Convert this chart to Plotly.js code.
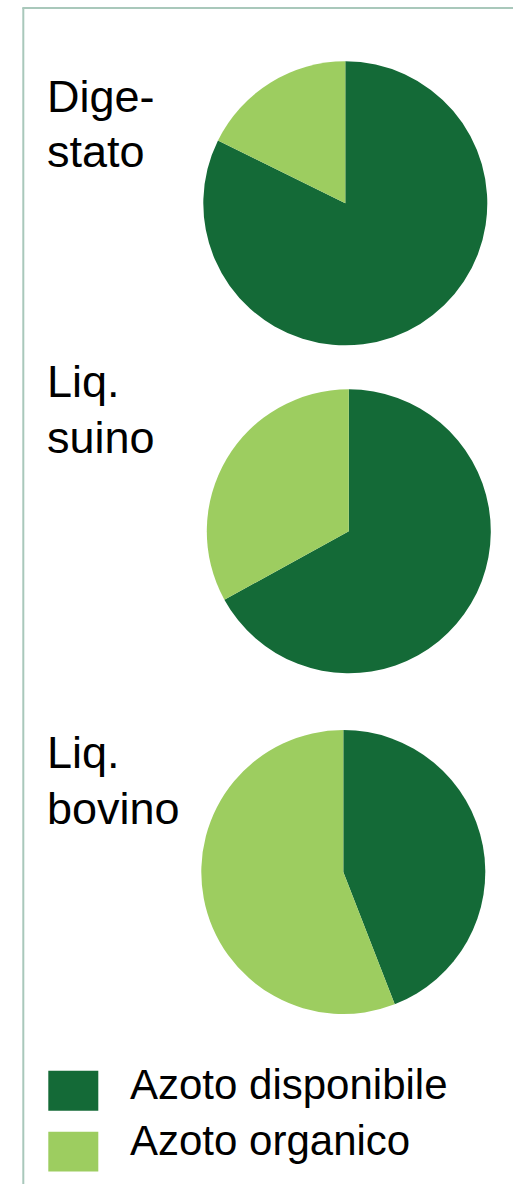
<!DOCTYPE html>
<html>
<head>
<meta charset="utf-8">
<script src="https://cdn.plot.ly/plotly-3.0.1.min.js"></script>
<style>
  html, body { margin: 0; padding: 0; background: #ffffff; }
  #chart { width: 513px; height: 1184px; }
</style>
</head>
<body>
<div id="chart"></div>
<script>
// ---- Data ----
const categories = ["Digestato", "Liq. suino", "Liq. bovino"];
const categoryLabelLines = [["Dige-", "stato"], ["Liq.", "suino"], ["Liq.", "bovino"]];
const seriesNames = ["Azoto disponibile", "Azoto organico"];
const azotoDisponibile = [82.3, 67.0, 44.1];
const azotoOrganico = [17.7, 33.0, 55.9];

// ---- Styles / layout ----
const W = 513, H = 1184;
const colors = ["#146a37", "#9dcd60"];
const fontFamily = "Liberation Sans, Arial, Helvetica, sans-serif";
const pieCenters = [[345.3, 203.3], [348.8, 531.3], [343.3, 872.0]];
const pieR = 142;
const labelX = 46;
const labelBaselines = [[111.7, 166.7], [397.3, 453.0], [768.3, 824.0]];
const labelFont = 45;
const legendFont = 42;
const legendTextX = 129;
const legendBaselines = [1099.5, 1155.0];
const legendBoxes = [[48.3, 1070.7, 98.3, 1110.7], [48.3, 1131.7, 98.3, 1171.5]];

const px = x => x / W;
const py = y => 1 - y / H;

const traces = categories.map((cat, i) => {
  const [cx, cy] = pieCenters[i];
  return {
    type: "pie",
    name: cat,
    labels: seriesNames,
    values: [azotoDisponibile[i], azotoOrganico[i]],
    marker: { colors: colors, line: { width: 0 } },
    sort: false,
    direction: "clockwise",
    rotation: 0,
    textinfo: "none",
    hoverinfo: "label+percent",
    showlegend: false,
    domain: { x: [px(cx - pieR), px(cx + pieR)], y: [py(cy + pieR), py(cy - pieR)] }
  };
});

const annotations = [];
categoryLabelLines.forEach((lines, i) => {
  lines.forEach((t, j) => {
    annotations.push({
      xref: "paper", yref: "paper",
      x: px(labelX), y: py(labelBaselines[i][j] - 0.3465 * labelFont),
      xanchor: "left", yanchor: "middle",
      text: t, showarrow: false, borderpad: 0,
      font: { family: fontFamily, size: labelFont, color: "#000000" }
    });
  });
});
seriesNames.forEach((t, k) => {
  annotations.push({
    xref: "paper", yref: "paper",
    x: px(legendTextX), y: py(legendBaselines[k] - 0.3465 * legendFont),
    xanchor: "left", yanchor: "middle",
    text: t, showarrow: false, borderpad: 0,
    font: { family: fontFamily, size: legendFont, color: "#000000" }
  });
});

const shapes = [
  { type: "line", xref: "paper", yref: "paper", x0: px(23.3), y0: py(8), x1: px(23.3), y1: 0,
    line: { color: "#a9c8bb", width: 2 } },
  { type: "line", xref: "paper", yref: "paper", x0: px(22.3), y0: py(8), x1: 1, y1: py(8),
    line: { color: "#a9c8bb", width: 2 } }
];
legendBoxes.forEach((b, k) => {
  shapes.push({
    type: "rect", xref: "paper", yref: "paper",
    x0: px(b[0]), y0: py(b[1]), x1: px(b[2]), y1: py(b[3]),
    fillcolor: colors[k], line: { width: 0 }
  });
});

const layout = {
  width: W, height: H,
  margin: { l: 0, r: 0, t: 0, b: 0, pad: 0 },
  paper_bgcolor: "#ffffff",
  plot_bgcolor: "#ffffff",
  showlegend: false,
  annotations: annotations,
  shapes: shapes
};

Plotly.newPlot("chart", traces, layout, { displayModeBar: false, staticPlot: true });
</script>
</body>
</html>
